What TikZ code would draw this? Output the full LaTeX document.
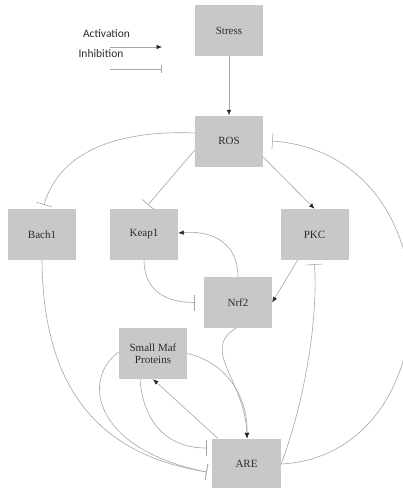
\documentclass[tikz,border=0pt]{standalone}
\usepackage{fontspec}
\setmainfont{Liberation Serif}
\newfontfamily\legendfont{Carlito}
\usetikzlibrary{arrows.meta}
\definecolor{boxgray}{HTML}{C8C8CA}
\definecolor{linegray}{HTML}{A6A6A6}
\definecolor{txtgray}{HTML}{2B2B2B}
\tikzset{
  box/.style={fill=boxgray, minimum width=68pt, minimum height=51pt, inner sep=0pt, text=txtgray, font=\rmfamily\fontsize{11}{12.5}\selectfont, align=center},
  link/.style={draw=linegray, line width=0.6pt},
  act/.style={link, -{Latex[length=5.5pt,width=4.5pt,color=black!85]}},
  inh/.style={link, -{Bar[width=16pt]}},
  legtext/.style={font=\legendfont\fontsize{11.5}{13}\selectfont, text=txtgray, inner sep=0pt}
}
\begin{document}
\begin{tikzpicture}[x=1pt,y=-1pt]
\useasboundingbox (0,0) rectangle (403,488);
% nodes
\node[box] (Stress) at (229,30.5) {Stress};
\node[box] (ROS) at (229,141) {ROS};
\node[box] (Bach1) at (42,234.5) {Bach1};
\node[box] (Keap1) at (144,234.5) {Keap1};
\node[box] (PKC) at (314.5,234.5) {PKC};
\node[box] (Nrf2) at (238,302.5) {Nrf2};
\node[box] (SmallMaf) at (153,353.5) {Small Maf\\Proteins};
\node[box, minimum width=69pt] (ARE) at (246.5,464) {ARE};
% legend
\node[legtext] (actlab) at (106.5,34) {Activation};
\node[legtext] (inhlab) at (101,54) {Inhibition};
\coordinate (a1) at (110,47);
\coordinate (a2) at (162,47);
\coordinate (i1) at (110,69);
\coordinate (i2) at (162,69);
\draw[act] (a1) -- (a2);
\draw[link, -{Bar[width=8pt]}] (i1) -- (i2);
% connectors
\draw[act] (Stress.south) -- (ROS.north);
\draw[inh] ([yshift=8pt]ROS.west) .. controls (120,130) and (60,150) .. ([xshift=2pt,yshift=4pt]Bach1.north);
\draw[inh] ([yshift=-9pt]ROS.west) -- ([xshift=4pt,yshift=4pt]Keap1.north);
\draw[act] ([yshift=-16pt]ROS.east) -- (PKC.north);
\draw[act] ([xshift=-17pt]PKC.south) -- (Nrf2.east);
\draw[act] (Nrf2.north) .. controls (238,245) and (215,230) .. ([yshift=1.5pt]Keap1.east);
\draw[inh] (Keap1.south) .. controls (144,290) and (165,302.5) .. ([xshift=-9pt]Nrf2.west);
\draw[inh] (ARE.east) .. controls (305,400) and (318,320) .. ([yshift=-4pt]PKC.south);
\draw[inh] (ARE.east) .. controls (452,455) and (460,155) .. ([xshift=9pt]ROS.east);
\draw[inh] (Bach1.south) .. controls (43,390) and (100,455) .. ([xshift=-5pt,yshift=-8pt]ARE.west);
\draw[inh] ([yshift=1.5pt]SmallMaf.west) .. controls (80,380) and (95,450) .. ([xshift=-5pt,yshift=-8pt]ARE.west);
\draw[inh] ([xshift=-13pt]SmallMaf.south) .. controls (143,420) and (165,448) .. ([xshift=-5pt,yshift=16pt]ARE.west);
\draw[act] (SmallMaf.east) .. controls (225,362) and (248,395) .. ([xshift=0.5pt]ARE.north);
\draw[act] ([xshift=-2pt]Nrf2.south) .. controls (200,350) and (245,380) .. ([xshift=0.5pt]ARE.north);
\draw[act] ([xshift=6pt]ARE.north west) -- (SmallMaf.south);
\end{tikzpicture}
\end{document}
